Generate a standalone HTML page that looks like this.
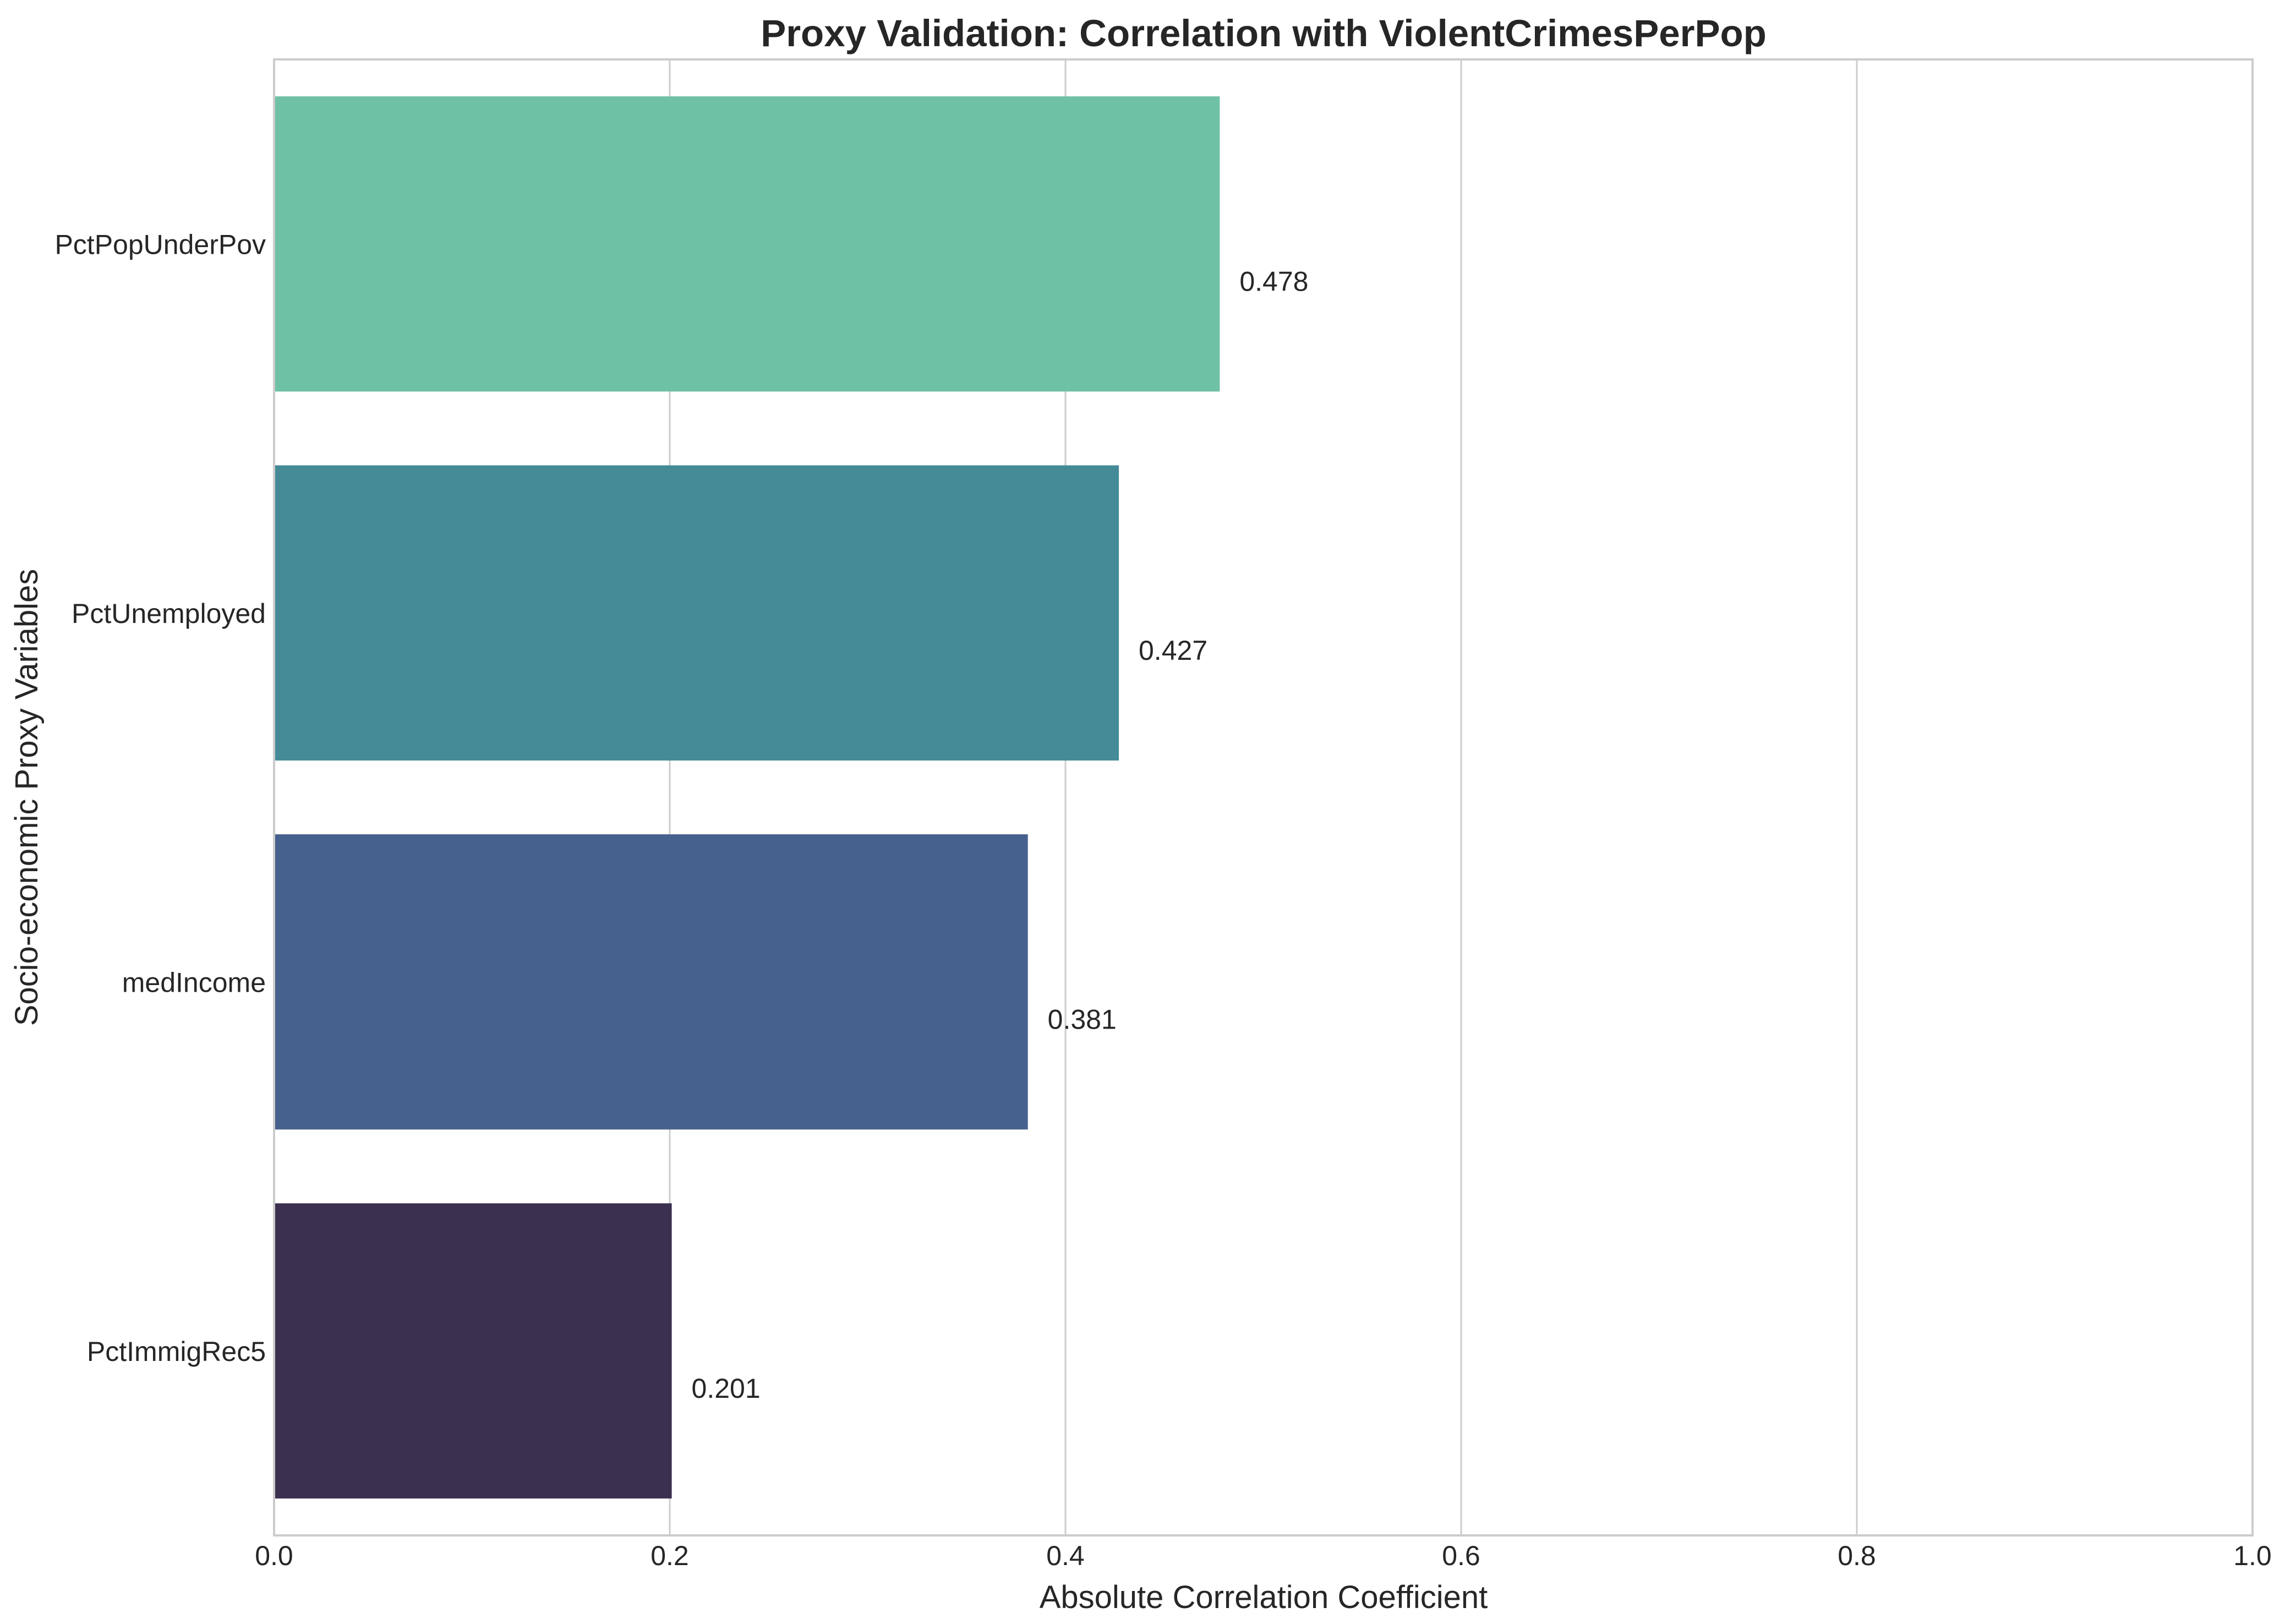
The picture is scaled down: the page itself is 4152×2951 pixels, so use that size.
<!DOCTYPE html>
<html><head><meta charset="utf-8"><style>
html,body{margin:0;padding:0;background:#fff;}
svg{display:block;font-family:"Liberation Sans",Arial,sans-serif;}
</style></head><body>
<svg id="chart" width="4152" height="2951" viewBox="0 0 4152 2951" xmlns="http://www.w3.org/2000/svg">
<rect width="4152" height="2951" fill="#fff"/>
<g id="grid"></g>
<g id="bars"></g>
<g id="frame"></g>
<g id="labels"></g>
<text x="2296" y="84" text-anchor="middle" font-size="69" font-weight="bold" fill="#262626">Proxy Validation: Correlation with ViolentCrimesPerPop</text>
<text x="2296" y="2922" text-anchor="middle" font-size="58" fill="#262626">Absolute Correlation Coefficient</text>
<text transform="translate(68,1449) rotate(-90)" text-anchor="middle" font-size="58" fill="#262626">Socio-economic Proxy Variables</text>
</svg>
<script>
const categories = ["PctPopUnderPov","PctUnemployed","medIncome","PctImmigRec5"];
const values = [0.478,0.427,0.381,0.201];
const colors = ["#6fc1a6","#448b97","#46618d","#3b304f"];
const xTicks = [0,0.2,0.4,0.6,0.8,1.0];
const xTickLabels = ["0.0","0.2","0.4","0.6","0.8","1.0"];

const NS="http://www.w3.org/2000/svg";
const L=498,R=4093,T=108,B=2790;
function xs(v){return L+(v-0)/(1-0)*(R-L);}
const band=(B-T)/categories.length;
function yc(i){return T+band*(i+0.5);}
function mk(tag,attrs,parent){const e=document.createElementNS(NS,tag);for(const k in attrs)e.setAttribute(k,attrs[k]);parent.appendChild(e);return e;}
const grid=document.getElementById('grid'),bars=document.getElementById('bars'),frame=document.getElementById('frame'),labels=document.getElementById('labels');
xTicks.forEach((t,i)=>{
  const ln=mk('line',{x1:xs(t),x2:xs(t),y1:T,y2:B,stroke:'#cccccc','stroke-width':3},grid);
  
  
  const tx=mk('text',{x:xs(t),y:2844,'text-anchor':'middle','font-size':50,fill:'#262626'},labels);
  tx.textContent=xTickLabels[i];
  
  
});
categories.forEach((c,i)=>{
  const h=band*0.8;
  const r=mk('rect',{x:xs(0),y:yc(i)-h/2,width:xs(values[i])-xs(0),height:h,fill:colors[i]},bars);
  
  
  const tl=mk('text',{x:483,y:yc(i)+18,'text-anchor':'end','font-size':50,fill:'#262626'},labels);
  tl.textContent=c;
  
  
  const vl=mk('text',{x:xs(values[i]+0.01),y:yc(i)+band*0.1+18,'font-size':50,fill:'#262626'},labels);
  vl.textContent=values[i].toFixed(3);
  
  
});
const fr=mk('rect',{x:L,y:T,width:R-L,height:B-T,fill:'none',stroke:'#cccccc','stroke-width':4},frame);


</script>
</body></html>
